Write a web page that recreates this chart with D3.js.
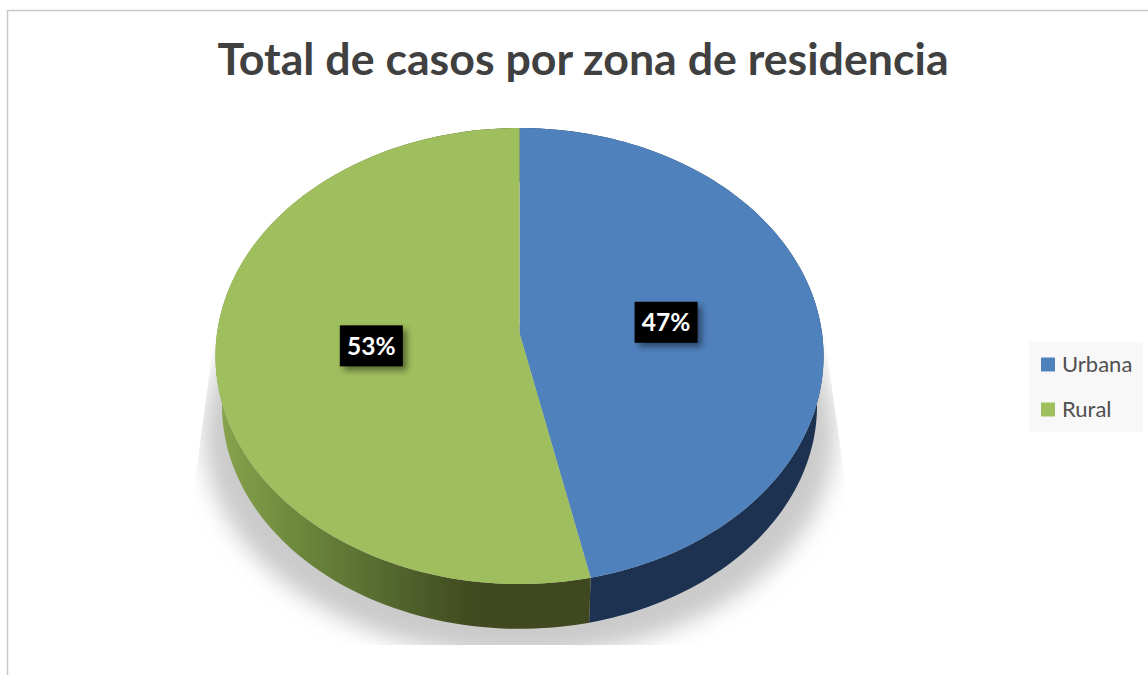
<!DOCTYPE html>
<html>
<head>
<meta charset="utf-8">
<script src="https://cdnjs.cloudflare.com/ajax/libs/d3/7.8.5/d3.min.js"></script>
<style>
  html, body { margin: 0; padding: 0; background: #fff; }
  svg { display: block; }
  text { font-family: Lato, "Open Sans", sans-serif; }
</style>
</head>
<body>
<div id="app"></div>
<script>
const title = "Total de casos por zona de residencia";
const categories = ["Urbana", "Rural"];
const shares = [46.6, 53.4];
const shareLabels = ["47%", "53%"];
const topColors = ["#4f81bd", "#9fbe5d"];

const full = { width: 1148, height: 675 };

// perspective disc: top face and the slightly smaller bottom face
const tilt = 0.101;
const topFace = { cx: 519.5, cy: 333, rx: 302.5, ry: 225.7 };
const lowFace = { cx: 519.5, cy: 383, rx: 296, ry: 221 };
const shadowFace = { cx: 519.5, cy: 412, rx: 314, ry: 220 };

const project = (face, angle, r = 1) => {
  const u = Math.sin(angle) * r, v = -Math.cos(angle) * r, w = 1 - tilt * v;
  return [face.cx + face.rx * u / w, face.cy + face.ry * v / w];
};

const arcPoints = (face, a0, a1) =>
  d3.range(0, 121).map(i => project(face, a0 + (a1 - a0) * i / 120));

const color = d3.scaleOrdinal().domain(categories).range(topColors);
const line = d3.line();
const slices = d3.pie().sort(null).value(d => d.share)(
  categories.map((name, i) => ({ name, share: shares[i], label: shareLabels[i] }))
);

const svg = d3.select("#app").append("svg")
  .attr("width", full.width)
  .attr("height", full.height);

const defs = svg.append("defs");

defs.append("filter").attr("id", "blur")
  .attr("x", "-20%").attr("y", "-20%").attr("width", "140%").attr("height", "140%")
  .append("feGaussianBlur").attr("stdDeviation", 11);

// the shadow is cut by a trapezoid above and a flat edge below
defs.append("clipPath").attr("id", "shadowClip")
  .append("path")
  .attr("d", "M216,325L823,325L845,480V645H195V480Z");

const sideGrad = defs.append("linearGradient").attr("id", "ruralSide")
  .attr("gradientUnits", "userSpaceOnUse")
  .attr("x1", 215).attr("x2", 595).attr("y1", 0).attr("y2", 0);
[[0, "#8aa54d"], [0.2, "#6f8a3e"], [0.45, "#55692f"], [0.68, "#40491f"], [1, "#3f481e"]]
  .forEach(([o, c]) => sideGrad.append("stop").attr("offset", o).attr("stop-color", c));

defs.append("filter").attr("id", "boxShadow")
  .attr("x", "-30%").attr("y", "-30%").attr("width", "170%").attr("height", "170%")
  .append("feDropShadow")
  .attr("dx", 4).attr("dy", 4).attr("stdDeviation", 3)
  .attr("flood-color", "#000").attr("flood-opacity", 0.45);

// frame
svg.append("path")
  .attr("d", `M7.5,${full.height}V10.5H${full.width}`)
  .attr("fill", "none")
  .attr("stroke", "#c8c8c8")
  .attr("stroke-width", 1.5);

svg.append("text")
  .attr("x", 583)
  .attr("y", 75)
  .attr("text-anchor", "middle")
  .attr("font-size", 44.7)
  .attr("font-weight", 700)
  .attr("fill", "#404040")
  .text(title);

// soft shadow under the disc
svg.append("g").attr("clip-path", "url(#shadowClip)")
  .append("path")
  .attr("d", line(arcPoints(shadowFace, 0, Math.PI * 2)) + "Z")
  .attr("fill", "#cbcbcb")
  .attr("filter", "url(#blur)");

// side walls
const sideColors = ["#1d3250", "url(#ruralSide)"];
svg.selectAll(".side")
  .data(slices)
  .join("path")
  .attr("class", "side")
  .attr("fill", (d, i) => sideColors[i])
  .attr("d", d => line([
    ...arcPoints(topFace, d.startAngle, d.endAngle),
    ...arcPoints(lowFace, d.startAngle, d.endAngle).reverse()
  ]) + "Z");

// top face
svg.selectAll(".slice")
  .data(slices)
  .join("path")
  .attr("class", "slice")
  .attr("fill", d => color(d.data.name))
  .attr("d", d => line([
    project(topFace, 0, 0),
    ...arcPoints(topFace, d.startAngle, d.endAngle)
  ]) + "Z");

// percentage tags
const tag = svg.selectAll(".tag")
  .data(slices)
  .join("g")
  .attr("class", "tag")
  .attr("transform", d => {
    const [x, y] = project(topFace, (d.startAngle + d.endAngle) / 2, 0.49);
    return `translate(${x},${y + 1})`;
  });

tag.append("rect")
  .attr("x", -31.5).attr("y", -20.5)
  .attr("width", 63).attr("height", 41)
  .attr("fill", "#000")
  .attr("filter", "url(#boxShadow)");

tag.append("text")
  .attr("text-anchor", "middle")
  .attr("y", 9)
  .attr("font-size", 24.5)
  .attr("font-weight", 700)
  .attr("fill", "#fff")
  .text(d => d.data.label);

// legend
const legend = { x: 1029, y: 342, width: 114, height: 90, rowStart: 364.5, rowGap: 45 };

svg.append("rect")
  .attr("x", legend.x).attr("y", legend.y)
  .attr("width", legend.width).attr("height", legend.height)
  .attr("fill", "#f8f8f8");

const row = svg.selectAll(".row")
  .data(categories)
  .join("g")
  .attr("class", "row")
  .attr("transform", (d, i) => `translate(${legend.x + 12},${legend.rowStart + i * legend.rowGap})`);

row.append("rect")
  .attr("x", 0).attr("y", -7)
  .attr("width", 14).attr("height", 14)
  .attr("fill", d => color(d));

row.append("text")
  .attr("x", 21)
  .attr("y", 7.5)
  .attr("font-size", 22)
  .attr("fill", "#505050")
  .text(d => d);
</script>
</body>
</html>
